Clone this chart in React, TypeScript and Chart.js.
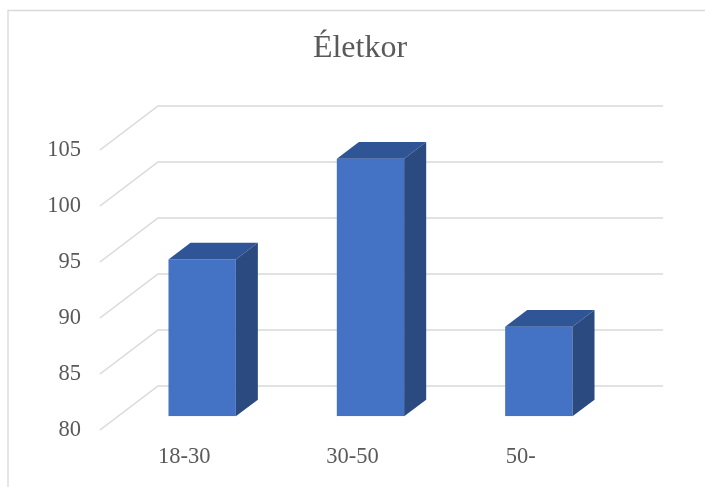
import { useEffect, useRef } from "react";
import { Chart, registerables } from "chart.js";

Chart.register(...registerables);

// ---- data ----
const chartTitle = "Életkor";
const categories = ["18-30", "30-50", "50-"];
const values = [94, 103, 88];
const yMin = 80;
const yMax = 105;
const yStep = 5;

// ---- style ----
const FONT = "'Liberation Serif', 'Times New Roman', serif";
const TEXT = "#595959";
const GRID = "#d9d9d9";
const FRONT = "#4472C4";
const TOP = "#2F5597";
const SIDE = "#2A4A80";
const DEPTH_X = 58;
const DEPTH_Y = -44;
const BAR_FRONT = 0.31;
const BAR_BACK = 0.69;

const threeD = {
  id: "threeD",
  beforeDraw(chart: any) {
    const { ctx, width, height } = chart;
    ctx.save();
    ctx.fillStyle = "#ffffff";
    ctx.fillRect(0, 0, width, height);
    ctx.strokeStyle = GRID;
    ctx.lineWidth = 1.3;
    ctx.beginPath();
    ctx.moveTo(8, height + 5);
    ctx.lineTo(8, 10.5);
    ctx.lineTo(width + 5, 10.5);
    ctx.stroke();
    ctx.restore();
  },
  beforeDatasetsDraw(chart: any) {
    const { ctx, chartArea, scales } = chart;
    const ys = scales.y;
    ctx.save();
    ctx.strokeStyle = GRID;
    ctx.lineWidth = 1.5;
    for (const t of ys.ticks) {
      const py = ys.getPixelForValue(t.value);
      ctx.beginPath();
      ctx.moveTo(chartArea.left, py);
      ctx.lineTo(chartArea.left + DEPTH_X, py + DEPTH_Y);
      ctx.lineTo(chartArea.right + DEPTH_X, py + DEPTH_Y);
      ctx.stroke();
    }
    ctx.restore();
    ctx.save();
    ctx.translate(DEPTH_X * BAR_FRONT, DEPTH_Y * BAR_FRONT);
  },
  afterDatasetsDraw(chart: any) {
    const { ctx, chartArea } = chart;
    const meta = chart.getDatasetMeta(0);
    const ddx = DEPTH_X * (BAR_BACK - BAR_FRONT);
    const ddy = DEPTH_Y * (BAR_BACK - BAR_FRONT);
    meta.data.forEach((bar: any) => {
      const p = bar.getProps(["x", "y", "base", "width"], true);
      const { x, y, width } = p;
      const base = Math.min(p.base, chartArea.bottom);
      const x0 = x - width / 2;
      const x1 = x + width / 2;
      ctx.fillStyle = TOP;
      ctx.beginPath();
      ctx.moveTo(x0, y);
      ctx.lineTo(x1, y);
      ctx.lineTo(x1 + ddx, y + ddy);
      ctx.lineTo(x0 + ddx, y + ddy);
      ctx.closePath();
      ctx.fill();
      ctx.fillStyle = SIDE;
      ctx.beginPath();
      ctx.moveTo(x1, y);
      ctx.lineTo(x1 + ddx, y + ddy);
      ctx.lineTo(x1 + ddx, base + ddy);
      ctx.lineTo(x1, base);
      ctx.closePath();
      ctx.fill();
    });
    ctx.restore();
  },
};

export default function App() {
  const ref = useRef<HTMLCanvasElement | null>(null);
  useEffect(() => {
    if (!ref.current) return;
    const chart = new Chart(ref.current, {
      type: "bar",
      data: {
        labels: categories,
        datasets: [
          {
            label: chartTitle,
            data: values,
            base: yMin,
            backgroundColor: FRONT,
            borderWidth: 0,
            barPercentage: 0.4,
            categoryPercentage: 1,
          },
        ],
      },
      options: {
        animation: false,
        responsive: true,
        maintainAspectRatio: false,
        layout: { padding: { left: 15, right: 0, top: 0, bottom: 0 } },
        plugins: {
          legend: { display: false },
          tooltip: { enabled: false },
          title: {
            display: true,
            text: chartTitle,
            color: TEXT,
            font: { family: FONT, size: 32, weight: "normal" },
            padding: { top: 29, bottom: 82.6 },
          },
        },
        scales: {
          x: {
            grid: { display: false, drawTicks: false },
            border: { display: false },
            ticks: { color: TEXT, font: { family: FONT, size: 22.5 }, padding: 14 },
            afterFit: (s: any) => {
              s.height = 57;
            },
          },
          y: {
            min: yMin,
            max: yMax,
            grid: { display: false, drawTicks: false },
            border: { display: false },
            ticks: { stepSize: yStep, color: TEXT, font: { family: FONT, size: 22.5 }, padding: 19 },
            afterFit: (s: any) => {
              s.width = 85;
            },
          },
          yR: {
            position: "right",
            display: true,
            grid: { display: false, drawTicks: false },
            border: { display: false },
            ticks: { display: false },
            afterFit: (s: any) => {
              s.width = 100;
            },
          },
        },
      } as any,
      plugins: [threeD],
    });
    return () => chart.destroy();
  }, []);
  return (
    <div style={{ position: "absolute", left: 0, top: 0, width: 705, height: 487 }}>
      <canvas ref={ref} />
    </div>
  );
}
